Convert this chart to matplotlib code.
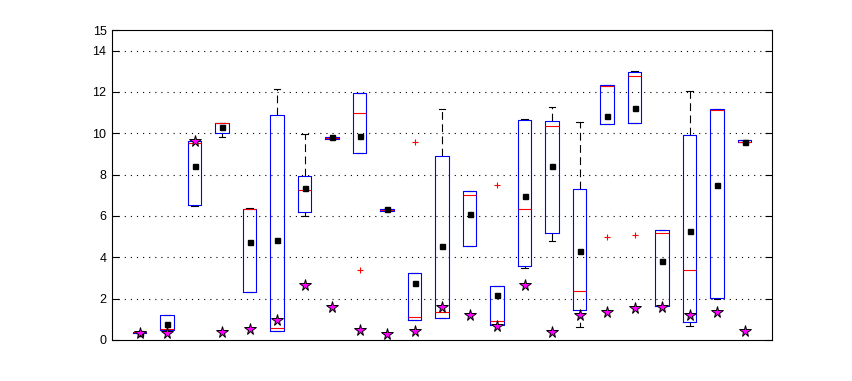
import numpy as np
import matplotlib
matplotlib.use("Agg")
import matplotlib.pyplot as plt

# per-group summary statistics
positions = list(range(1, 24))
q1 = [0.33, 0.48, 6.52, 10.00, 2.31, 0.44, 6.18, 9.73, 9.03, 6.26, 0.95, 1.05,
      4.53, 0.73, 3.56, 5.16, 1.44, 10.44, 10.48, 1.66, 0.89, 2.02, 9.56]
q3 = [0.40, 1.19, 9.65, 10.52, 6.32, 10.87, 7.94, 9.84, 11.94, 6.35, 3.23, 8.90,
      7.19, 2.60, 10.65, 10.58, 7.29, 12.32, 12.95, 5.31, 9.90, 11.16, 9.66]
medians = [0.37, 0.52, 9.52, 10.48, 6.32, 0.56, 7.24, 9.76, 10.97, 6.29, 1.11, 1.34,
           7.00, 0.90, 6.32, 10.34, 2.35, 12.29, 12.76, 5.16, 3.37, 11.13, 9.58]
whis_lo = [0.33, 0.48, 6.48, 9.81, 2.31, 0.44, 6.00, 9.73, 9.03, 6.26, 0.95, 1.05,
           4.53, 0.73, 3.48, 4.79, 0.61, 10.44, 10.48, 1.66, 0.68, 1.98, 9.56]
whis_hi = [0.40, 1.19, 9.70, 10.52, 6.37, 12.16, 9.95, 9.84, 11.94, 6.35, 3.23, 11.16,
           7.23, 2.60, 10.71, 11.29, 10.53, 12.35, 13.03, 5.34, 12.03, 11.19, 9.66]
means = [0.36, 0.77, 8.40, 10.29, 4.73, 4.82, 7.34, 9.81, 9.85, 6.32, 2.74, 4.53,
         6.08, 2.16, 6.95, 8.40, 4.29, 10.82, 11.21, 3.81, 5.26, 7.48, 9.56]
outliers = {9: [3.37], 11: [9.56], 14: [7.48], 18: [4.97], 19: [5.06]}
stars = [0.32, 0.32, 9.65, 0.39, 0.55, 0.97, 2.66, 1.58, 0.48, 0.29, 0.45, 1.58,
         1.23, 0.68, 2.68, 0.40, 1.19, 1.35, 1.55, 1.61, 1.23, 1.37, 0.45]

yticks = [0, 2, 4, 6, 8, 10, 12, 14, 15]

plt.rcParams["font.family"] = ["Liberation Sans", "DejaVu Sans"]

fig = plt.figure(figsize=(8.52, 3.81), dpi=100)
ax = fig.add_axes([112 / 852, 41 / 381, 660 / 852, 310 / 381])

stats = []
for i, p in enumerate(positions):
    stats.append({
        "med": medians[i], "q1": q1[i], "q3": q3[i],
        "whislo": whis_lo[i], "whishi": whis_hi[i],
        "fliers": outliers.get(p, []),
    })

lw = 0.8
ax.bxp(stats, positions=positions, widths=0.5, showfliers=True,
       boxprops=dict(color="blue", lw=lw, zorder=4),
       medianprops=dict(color="red", lw=lw, zorder=5),
       whiskerprops=dict(color="black", lw=lw, linestyle=(0, (7, 4)), zorder=3),
       capprops=dict(color="black", lw=lw, zorder=3),
       capwidths=0.25,
       flierprops=dict(marker="+", markeredgecolor="red", markersize=5,
                       markeredgewidth=0.8, linestyle="none", zorder=5))

ax.plot(positions, means, "s", color="black", markersize=3.6, zorder=6)
ax.plot(positions, stars, "*", markerfacecolor="magenta", markeredgecolor="black",
        markeredgewidth=0.7, markersize=8.5, linestyle="none", zorder=7)

ax.set_xlim(0, 24)
ax.set_ylim(0, 15)
ax.set_xticks([])
ax.set_yticks(yticks)
ax.set_yticklabels([str(t) for t in yticks])
ax.tick_params(axis="y", direction="in", length=5, width=0.8, labelsize=9,
               right=True, left=True, pad=4)
for t in [2, 4, 6, 8, 10, 12, 14]:
    ax.axhline(t, color="black", lw=0.8, linestyle=(0, (1, 4.5)), zorder=1)
for s in ax.spines.values():
    s.set_linewidth(0.8)

fig.savefig("out.png", dpi=100)
